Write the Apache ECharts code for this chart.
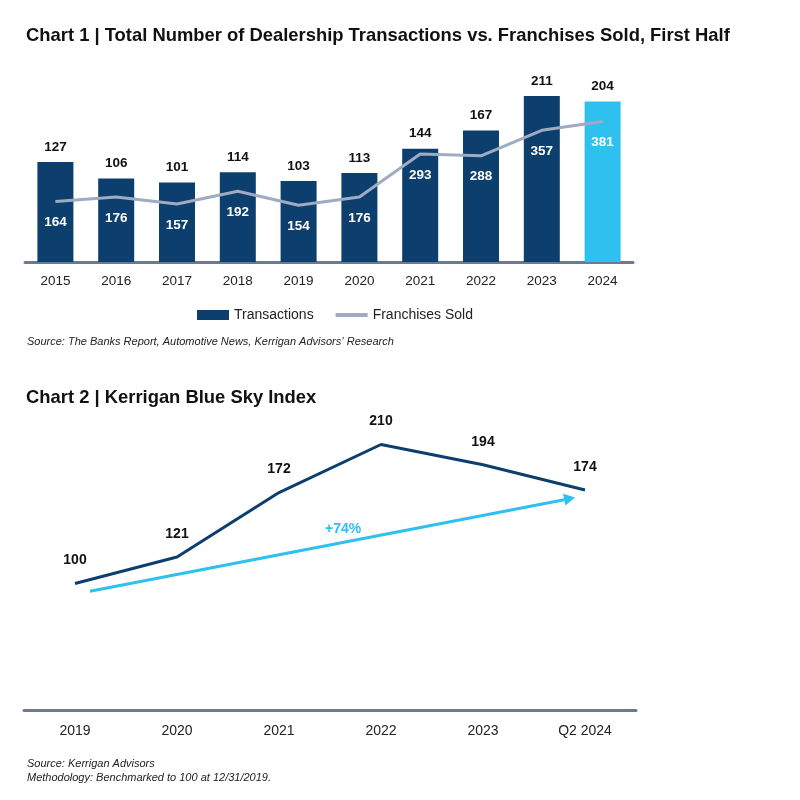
<!DOCTYPE html>
<html><head><meta charset="utf-8">
<script src="https://cdn.jsdelivr.net/npm/echarts@6/dist/echarts.min.js"></script>
<style>html,body{margin:0;background:#fff}#c{width:800px;height:800px}</style>
</head><body><div id="c"></div>
<script>
// chart 1
const years1 = ['2015','2016','2017','2018','2019','2020','2021','2022','2023','2024']
const transactions = [127, 106, 101, 114, 103, 113, 144, 167, 211, 204]
const franchises = [164, 176, 157, 192, 154, 176, 293, 288, 357, 381]
// chart 2
const years2 = ['2019','2020','2021','2022','2023','Q2 2024']
const blueSky = [100, 121, 172, 210, 194, 174]
const arrowFrom = [0, 94]
const arrowTo = [5, 168]

const dark = '#0d3f6e', light = '#2ec0ef', gray = '#9eabc3'
const font = 'Liberation Sans, Arial, sans-serif'

const chart = echarts.init(document.getElementById('c'))
const option = {
  animation: false,
  textStyle: { fontFamily: font },
  title: [
    { text: 'Chart 1 | Total Number of Dealership Transactions vs. Franchises Sold, First Half', left: 21, top: 22,
      textStyle: { fontSize: 18.4, fontWeight: 'bold', color: '#111', fontFamily: font } },
    { text: 'Chart 2 | Kerrigan Blue Sky Index', left: 21, top: 384,
      textStyle: { fontSize: 18.4, fontWeight: 'bold', color: '#111', fontFamily: font } },
    { text: 'Source: The Banks Report, Automotive News, Kerrigan Advisors\u2019 Research', left: 22, top: 331,
      textStyle: { fontSize: 11, fontStyle: 'italic', fontWeight: 'normal', color: '#222', fontFamily: font } },
    { text: 'Source: Kerrigan Advisors\nMethodology: Benchmarked to 100 at 12/31/2019.', left: 22, top: 752,
      textStyle: { fontSize: 11, fontStyle: 'italic', fontWeight: 'normal', color: '#222', lineHeight: 14, fontFamily: font } }
  ],
  legend: {
    top: 303, left: 192, itemGap: 22, itemWidth: 32, itemHeight: 10,
    textStyle: { fontSize: 14, color: '#222' },
    data: [{ name: 'Transactions', icon: 'rect' },
      { name: 'Franchises Sold', icon: 'path://M0,0H32V4H0Z', itemStyle: { color: gray } }]
  },
  grid: [
    { left: 25, right: 167, top: 96, height: 166 },
    { left: 24, right: 164, top: 444.5, height: 265.5 }
  ],
  xAxis: [
    { type: 'category', gridIndex: 0, data: years1,
      axisLine: { lineStyle: { color: '#6b7a8f', width: 3 } }, axisTick: { show: false },
      axisLabel: { color: '#222', fontSize: 13.5, margin: 12 } },
    { type: 'category', gridIndex: 1, data: years2,
      axisLine: { lineStyle: { color: '#6b7a8f', width: 3 } }, axisTick: { show: false },
      axisLabel: { color: '#222', fontSize: 14, margin: 14 } }
  ],
  yAxis: [
    { type: 'value', gridIndex: 0, min: 0, max: 211, show: false },
    { type: 'value', gridIndex: 0, min: 0, max: 450, show: false },
    { type: 'value', gridIndex: 1, min: 0, max: 210, show: false }
  ],
  series: [
    { name: 'Transactions', type: 'bar', xAxisIndex: 0, yAxisIndex: 0, barWidth: 36,
      itemStyle: { color: dark },
      data: transactions.map((v, i) => i === 9 ? { value: v, itemStyle: { color: light } } : v),
      label: { show: true, position: 'top', distance: 8, color: '#111', fontWeight: 'bold', fontSize: 13.5 } },
    { name: 'Franchises Sold', type: 'line', xAxisIndex: 0, yAxisIndex: 1, data: franchises,
      symbol: 'circle', symbolSize: 0, showSymbol: true, lineStyle: { color: gray, width: 3 }, itemStyle: { color: gray }, z: 3,
      label: { show: true, position: 'bottom', distance: 14, color: '#fff', fontWeight: 'bold', fontSize: 13.5 } },
    { name: 'Blue Sky', type: 'line', xAxisIndex: 1, yAxisIndex: 2, data: blueSky,
      symbol: 'circle', symbolSize: 0, showSymbol: true, lineStyle: { color: dark, width: 3 }, itemStyle: { color: dark },
      label: { show: true, position: 'top', distance: 16, color: '#111', fontWeight: 'bold', fontSize: 14 } }
  ]
}
chart.setOption(option)

const p1 = chart.convertToPixel({ gridIndex: 1 }, arrowFrom)
const p2 = chart.convertToPixel({ gridIndex: 1 }, arrowTo)
const x1 = p1[0] + 15, y1 = p1[1], x2 = p2[0] - 10, y2 = p2[1]
const ang = Math.atan2(y2 - y1, x2 - x1)
const hl = 11, hw = 6
const bx = x2 - hl * Math.cos(ang), by = y2 - hl * Math.sin(ang)
chart.setOption({
  graphic: [
    { type: 'line', shape: { x1, y1, x2: bx, y2: by }, style: { stroke: light, lineWidth: 3 } },
    { type: 'polygon', shape: { points: [[x2, y2],
        [bx + hw * Math.sin(ang), by - hw * Math.cos(ang)],
        [bx - hw * Math.sin(ang), by + hw * Math.cos(ang)]] }, style: { fill: light } },
    { type: 'text', x: 325, y: 522, style: { text: '+74%', fill: light, font: 'bold 14px ' + font } }
  ]
})
</script></body></html>
